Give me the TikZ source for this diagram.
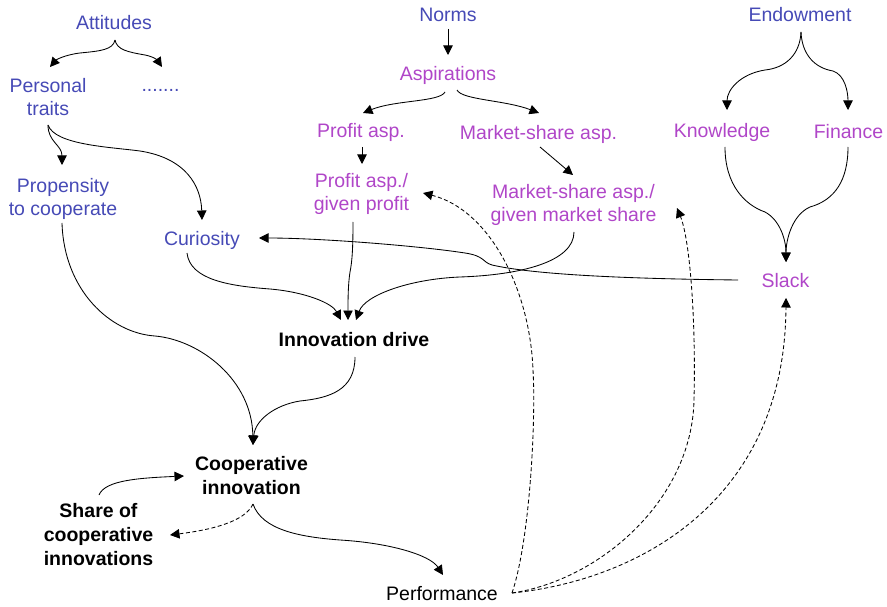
\documentclass[tikz,border=0pt]{standalone}
\usepackage{fontspec}
\setmainfont{Liberation Sans}
\usetikzlibrary{arrows.meta,calc}
\definecolor{ablue}{RGB}{70,74,182}
\definecolor{apurple}{RGB}{176,70,200}
\begin{document}
\begin{tikzpicture}[x=1pt,y=-1pt,
  lbl/.style={inner sep=0pt,align=center,font=\fontsize{19.5}{23.5}\selectfont},
  bluelbl/.style={lbl,text=ablue},
  purplbl/.style={lbl,text=apurple},
  boldlbl/.style={lbl,font=\fontsize{19.5}{24}\selectfont\bfseries},
  link/.style={line width=0.85pt,-{Triangle[length=9.5pt,width=9.5pt]}},
  dlink/.style={link,dash pattern=on 4pt off 2.5pt}]
\useasboundingbox (0,0) rectangle (887,607);

% concepts
\node[bluelbl] (att) at (114,23) {Attitudes};
\node[bluelbl] (pt) at (48,97) {Personal\\traits};
\node[bluelbl] (dots) at (160.5,90) {.......};
\node[bluelbl] (prop) at (63,199) {Propensity\\to cooperate};
\node[bluelbl] (cur) at (202,240) {Curiosity};
\node[bluelbl] (norms) at (448,15) {Norms};
\node[purplbl] (asp) at (448,75) {Aspirations};
\node[purplbl] (pa) at (361,132) {Profit asp.};
\node[purplbl] (ma) at (538.5,134) {Market-share asp.};
\node[purplbl] (pg) at (361.5,194) {Profit asp./\\given profit};
\node[purplbl] (mg) at (573.5,205) {Market-share asp./\\given market share};
\node[bluelbl] (endw) at (800,15) {Endowment};
\node[purplbl] (kn) at (722,132) {Knowledge};
\node[purplbl] (fin) at (848.5,132) {Finance};
\node[purplbl] (slack) at (785.5,281) {Slack};
\node[boldlbl] (idr) at (354,340) {Innovation drive};
\node[boldlbl] (coop) at (251.5,476) {Cooperative\\innovation};
\node[boldlbl] (share) at (98.5,535) {Share of\\cooperative\\innovations};
\node[lbl] (perf) at (442,594) {Performance};

% attitudes branch
\draw[link] ($(att)+(1,17)$) .. controls (113,50) and (100,51) .. (80,53)
  .. controls (64,55) and (56,60) .. ($(pt)+(2,-30)$);
\draw[link] ($(att)+(1,17)$) .. controls (117,50) and (128,52) .. (145,55)
  .. controls (155,57) and (158,61) .. ($(dots)+(1.5,-23)$);
\draw[link] ($(pt)+(0,28)$) .. controls (48,142) and (62,145) .. ($(prop)+(-1,-34)$);
\draw[link] ($(pt)+(0,28)$) .. controls (55,145) and (110,147) .. (140,151)
  .. controls (185,158) and (201,185) .. ($(cur)+(0,-20)$);

% norms and aspirations
\draw[link] ($(norms)+(0,14)$) -- ($(asp)+(0,-20)$);
\draw[link] ($(asp)+(-3,17)$) .. controls (440,102) and (395,100) .. ($(pa)+(2,-19)$);
\draw[link] ($(asp)+(9,15)$) .. controls (462,100) and (505,100) .. ($(ma)+(0.5,-21)$);
\draw[link] ($(pa)+(1,15)$) -- ($(pg)+(0.5,-30)$);
\draw[link] ($(ma)+(1.5,13)$) -- ($(mg)+(-0.5,-30)$);

% endowment
\draw[link] ($(endw)+(1,17)$) .. controls (800,55) and (785,68) .. (765,70)
  .. controls (740,74) and (727,90) .. ($(kn)+(5,-22)$);
\draw[link] ($(endw)+(1,17)$) .. controls (802,55) and (815,68) .. (833,71)
  .. controls (845,75) and (848,92) .. ($(fin)+(-0.5,-22)$);
\draw[link] ($(kn)+(3,15)$) .. controls (725,185) and (745,205) .. (765,212)
  .. controls (780,220) and (786,240) .. ($(slack)+(0.5,-19)$);
\draw[link] ($(fin)+(-0.5,15)$) .. controls (848,180) and (835,200) .. (810,207)
  .. controls (792,215) and (786,240) .. ($(slack)+(0.5,-19)$);
\draw[link] ($(slack)+(-47.5,-1)$) .. controls (650,279) and (540,276) .. (492,265)
  .. controls (482,262) and (485,256) .. (465,253)
  .. controls (420,246) and (320,238) .. ($(cur)+(57,-2)$);

% into the innovation drive
\draw[link] ($(cur)+(-15,13)$) .. controls (190,280) and (230,286) .. (270,289)
  .. controls (305,292) and (332,303) .. ($(idr)+(-13,-20)$);
\draw[link] ($(pg)+(-8.5,28)$) .. controls (353,250) and (352,262) .. (350,272)
  .. controls (348,285) and (348,300) .. ($(idr)+(-6,-20)$);
\draw[link] ($(mg)+(0.5,27)$) .. controls (574,262) and (520,275) .. (460,277)
  .. controls (410,279) and (365,295) .. ($(idr)+(2,-20)$);

% into cooperative innovation
\draw[link] ($(prop)+(-1,24)$) .. controls (64,290) and (110,333) .. (155,336)
  .. controls (200,340) and (252,380) .. ($(coop)+(1.5,-31)$);
\draw[link] ($(idr)+(1,17)$) .. controls (355,390) and (330,398) .. (300,401)
  .. controls (275,405) and (255,420) .. ($(coop)+(1.5,-31)$);
\draw[link] ($(share)+(0.5,-40)$) .. controls (105,480) and (140,478) .. ($(coop)+(-67.5,0)$);
\draw[dlink] ($(coop)+(1.5,28)$) .. controls (245,522) and (210,530) .. ($(share)+(71.5,0)$);
\draw[link] ($(coop)+(1.5,28)$) .. controls (262,530) and (300,537) .. (340,540)
  .. controls (390,543) and (430,555) .. ($(perf)+(1,-19)$);

% feedback from performance
\draw[dlink] ($(perf)+(70,-1)$) .. controls (530,540) and (536,420) .. (533,370)
  .. controls (530,290) and (490,210) .. ($(pg)+(61.5,-1)$);
\draw[dlink] ($(perf)+(70,-1)$) .. controls (600,580) and (692,500) .. (694,400)
  .. controls (696,320) and (690,240) .. ($(mg)+(103.5,3)$);
\draw[dlink] ($(perf)+(70,-1)$) .. controls (640,580) and (785,500) .. ($(slack)+(0.5,17)$);
\end{tikzpicture}
\end{document}
